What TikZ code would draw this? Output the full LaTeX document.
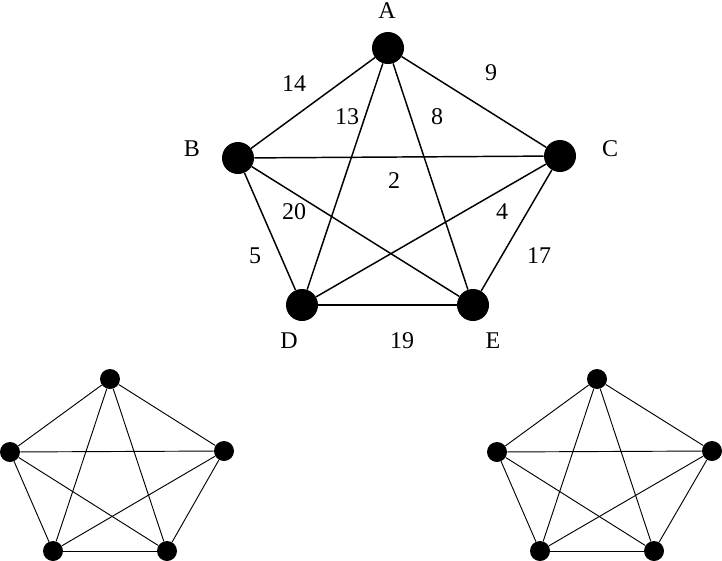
\documentclass[tikz,border=0pt]{standalone}
\usepackage{fontspec}
\setmainfont{Liberation Serif}
\begin{document}
\begin{tikzpicture}[x=0.75pt,y=-0.75pt,
  bigdot/.style={circle,fill=black,inner sep=0pt,minimum size=24pt},
  smalldot/.style={circle,fill=black,inner sep=0pt,minimum size=15pt},
  bigedge/.style={line width=1.1pt},
  smalledge/.style={line width=0.7pt},
  lbl/.style={font=\fontsize{18}{20}\selectfont,inner sep=0pt}]
\useasboundingbox (0,0) rectangle (722,561);
% top graph
\node[bigdot] (A) at (388,48) {};
\node[bigdot] (B) at (238,158) {};
\node[bigdot] (C) at (560,156) {};
\node[bigdot] (D) at (302,305) {};
\node[bigdot] (E) at (473,305) {};
\foreach \u/\v in {A/B,A/C,A/D,A/E,B/C,B/D,B/E,C/D,C/E,D/E}
  \draw[bigedge] (\u) -- (\v);
\node[lbl] (lA) at (387,11) {A};
\node[lbl] (lB) at (192,149) {B};
\node[lbl] (lC) at (610,149) {C};
\node[lbl] (lD) at (289,341) {D};
\node[lbl] (lE) at (493,341) {E};
\node[lbl] (w14) at (294,84) {14};
\node[lbl] (w13) at (347,117) {13};
\node[lbl] (w8) at (437,117) {8};
\node[lbl] (w9) at (491,73) {9};
\node[lbl] (w2) at (394,181) {2};
\node[lbl] (w20) at (294,212) {20};
\node[lbl] (w4) at (502,212) {4};
\node[lbl] (w5) at (255,256) {5};
\node[lbl] (w17) at (539,256) {17};
\node[lbl] (w19) at (402,341) {19};
% bottom left graph
\node[smalldot] (la) at (110,379) {};
\node[smalldot] (lb) at (10,452) {};
\node[smalldot] (lc) at (224,451) {};
\node[smalldot] (ld) at (53,551) {};
\node[smalldot] (le) at (167,551) {};
\foreach \u/\v in {la/lb,la/lc,la/ld,la/le,lb/lc,lb/ld,lb/le,lc/ld,lc/le,ld/le}
  \draw[smalledge] (\u) -- (\v);
% bottom right graph
\node[smalldot] (ra) at (597,379) {};
\node[smalldot] (rb) at (497,452) {};
\node[smalldot] (rc) at (712,451) {};
\node[smalldot] (rd) at (540,551) {};
\node[smalldot] (re) at (654,551) {};
\foreach \u/\v in {ra/rb,ra/rc,ra/rd,ra/re,rb/rc,rb/rd,rb/re,rc/rd,rc/re,rd/re}
  \draw[smalledge] (\u) -- (\v);
\end{tikzpicture}
\end{document}
